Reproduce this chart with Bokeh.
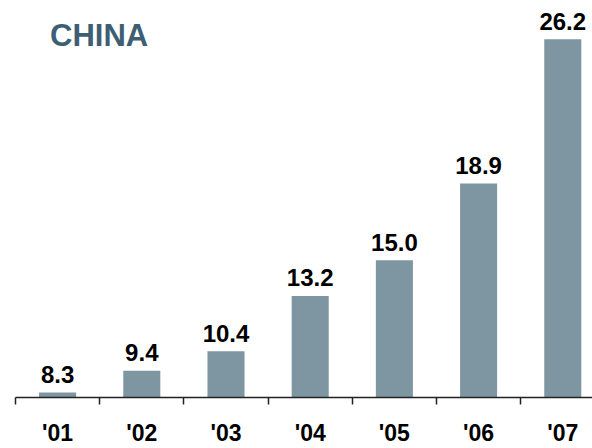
from bokeh.plotting import figure
from bokeh.models import Range1d, FixedTicker, ColumnDataSource, Label
from bokeh.core.properties import value
from bokeh.embed import file_html
from bokeh.resources import INLINE

years = ["'01", "'02", "'03", "'04", "'05", "'06", "'07"]
values = [8.3, 9.4, 10.4, 13.2, 15.0, 18.9, 26.2]
labels = ["8.3", "9.4", "10.4", "13.2", "15.0", "18.9", "26.2"]

centers = [i + 0.5 for i in range(len(years))]
src = ColumnDataSource(dict(x=centers, top=values, lab=labels))

y0 = 8.05
p = figure(width=592, height=448, output_backend="svg", toolbar_location=None,
           x_range=Range1d(0, 6.853), y_range=Range1d(y0, 28.17),
           min_border_left=15, min_border_right=0, min_border_top=0, min_border_bottom=51,
           outline_line_color=None, background_fill_color="white", border_fill_color="white")
p.grid.visible = False
p.yaxis.visible = False

p.vbar(x="x", top="top", bottom=y0, width=0.44, source=src,
       fill_color="#7e96a1", line_color=None)

p.text(x="x", y="top", text="lab", source=src, y_offset=-18,
       text_font=value("Liberation Sans"), text_font_style="bold",
       text_font_size="24px", text_align="center", text_baseline="alphabetic",
       text_color="black")

ax = p.xaxis[0]
ax.ticker = FixedTicker(ticks=centers, minor_ticks=list(range(len(years) + 1)))
ax.major_label_overrides = {c: y for c, y in zip(centers, years)}
ax.major_tick_line_color = None
ax.minor_tick_line_color = "#222222"
ax.minor_tick_line_width = 1.5
ax.minor_tick_out = 7
ax.minor_tick_in = 0
ax.axis_line_color = "#222222"
ax.axis_line_width = 1.5
ax.major_label_standoff = 15
ax.major_label_text_font = "Liberation Sans"
ax.major_label_text_font_style = "bold"
ax.major_label_text_font_size = "23px"
ax.major_label_text_color = "black"

title = Label(x=0.41, y=26.4, text="CHINA", text_font="Liberation Sans",
              text_font_style="bold", text_font_size="31px", text_color="#3e5e74",
              text_baseline="alphabetic")
p.add_layout(title)

open("out.html", "w").write(file_html(p, INLINE))
